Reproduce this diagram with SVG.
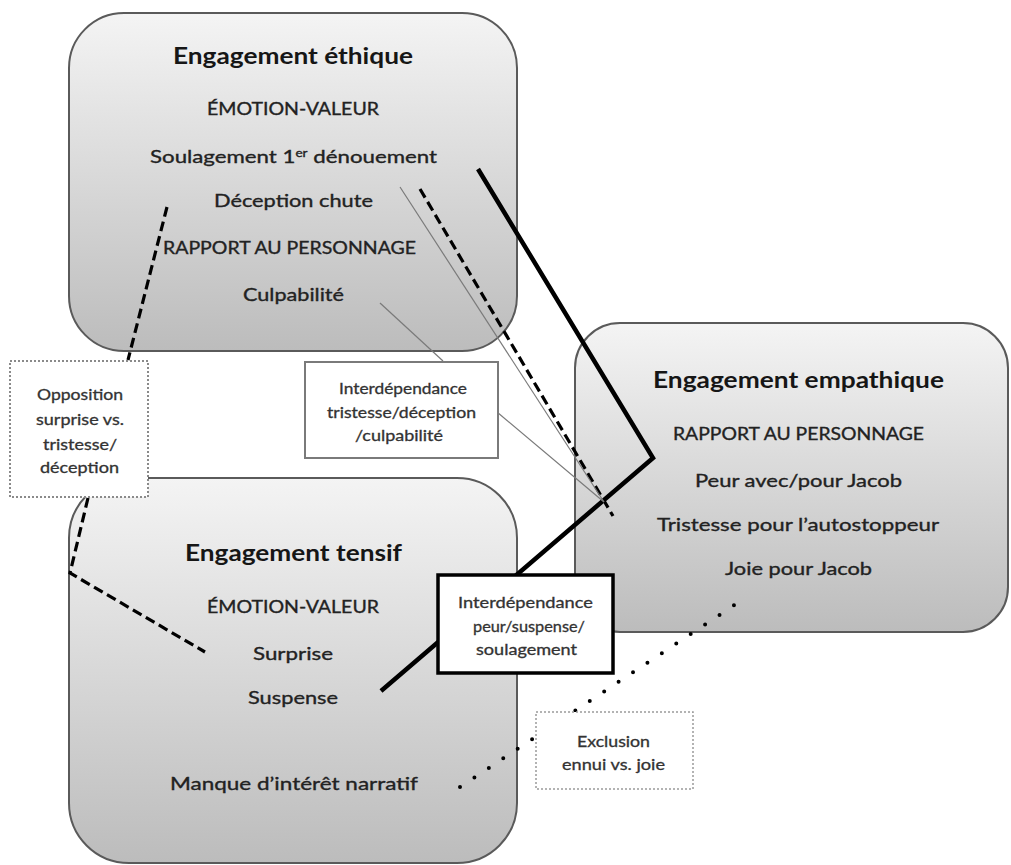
<svg xmlns="http://www.w3.org/2000/svg" width="1011" height="865" viewBox="0 0 1011 865">
<defs>
<linearGradient id="g" x1="0" y1="0" x2="0" y2="1">
<stop offset="0" stop-color="#f4f4f4"/>
<stop offset="1" stop-color="#bcbcbc"/>
</linearGradient>
</defs>
<style>
.box{fill:url(#g);stroke:#5a5a5a;stroke-width:2}
.t{font-family:Lato,"Liberation Sans",sans-serif;text-anchor:middle}
.title{font-size:22px;font-weight:bold;fill:#161616}
.body{font-size:18px;fill:#222;stroke:#222;stroke-width:0.35}
.lab{font-size:15px;fill:#333;stroke:#333;stroke-width:0.3}
.thick{fill:none;stroke:#000;stroke-width:4.5;stroke-linejoin:miter}
.dash{fill:none;stroke:#000;stroke-width:3.2;stroke-dasharray:10 5}
.thin{fill:none;stroke:#7a7a7a;stroke-width:1.2}
.dot{fill:none;stroke:#000;stroke-width:4;stroke-linecap:round;stroke-dasharray:0 17.3}
</style>
<rect width="1011" height="865" fill="#fff"/>
<g id="ethique">
<rect class="box" x="69" y="13" width="448" height="338" rx="55"/>
<text class="t title" x="293" y="64" textLength="240" lengthAdjust="spacingAndGlyphs">Engagement éthique</text>
<text class="t body" x="293" y="115" textLength="172" lengthAdjust="spacingAndGlyphs">ÉMOTION-VALEUR</text>
<text class="t body" x="293.5" y="163" textLength="287" lengthAdjust="spacingAndGlyphs">Soulagement 1<tspan font-size="11" baseline-shift="super">er</tspan> dénouement</text>
<text class="t body" x="293.5" y="207" textLength="159" lengthAdjust="spacingAndGlyphs">Déception chute</text>
<text class="t body" x="289.5" y="254" textLength="253" lengthAdjust="spacingAndGlyphs">RAPPORT AU PERSONNAGE</text>
<text class="t body" x="293.5" y="301" textLength="101" lengthAdjust="spacingAndGlyphs">Culpabilité</text>
</g>
<g id="empathique">
<rect class="box" x="575" y="323" width="433" height="309" rx="45"/>
<text class="t title" x="798.5" y="388" textLength="291" lengthAdjust="spacingAndGlyphs">Engagement empathique</text>
<text class="t body" x="798.5" y="440" textLength="251" lengthAdjust="spacingAndGlyphs">RAPPORT AU PERSONNAGE</text>
<text class="t body" x="798.5" y="487" textLength="207" lengthAdjust="spacingAndGlyphs">Peur avec/pour Jacob</text>
<text class="t body" x="798" y="531" textLength="282" lengthAdjust="spacingAndGlyphs">Tristesse pour l’autostoppeur</text>
<text class="t body" x="798.5" y="575" textLength="147" lengthAdjust="spacingAndGlyphs">Joie pour Jacob</text>
</g>
<g id="tensif">
<rect class="box" x="69" y="478" width="448" height="385" rx="60"/>
<text class="t title" x="293.5" y="561" textLength="217" lengthAdjust="spacingAndGlyphs">Engagement tensif</text>
<text class="t body" x="293" y="613" textLength="172" lengthAdjust="spacingAndGlyphs">ÉMOTION-VALEUR</text>
<text class="t body" x="293" y="660" textLength="80" lengthAdjust="spacingAndGlyphs">Surprise</text>
<text class="t body" x="293" y="704" textLength="90" lengthAdjust="spacingAndGlyphs">Suspense</text>
<text class="t body" x="294" y="790" textLength="248" lengthAdjust="spacingAndGlyphs">Manque d’intérêt narratif</text>
</g>
<g id="connectors">
<polyline class="thick" points="478,169 653,458 381,691"/>
<line class="dash" x1="420" y1="189" x2="613" y2="516"/>
<line class="thin" x1="400" y1="187" x2="604" y2="502"/>
<line class="thin" x1="380" y1="303" x2="443" y2="361"/>
<line class="thin" x1="497" y1="412" x2="604" y2="502"/>
<line class="dash" x1="167" y1="207" x2="128" y2="360"/>
<polyline class="dash" points="88,498 70,573 205,652"/>
<line class="dot" x1="460" y1="787" x2="748" y2="596"/>
</g>
<g id="opposition">
<rect x="10" y="361" width="138" height="136" fill="#fff" stroke="#8a8a8a" stroke-width="2" stroke-dasharray="2 2"/>
<text class="t lab" x="80" y="400" textLength="86" lengthAdjust="spacingAndGlyphs">Opposition</text>
<text class="t lab" x="80" y="425" textLength="88" lengthAdjust="spacingAndGlyphs">surprise vs.</text>
<text class="t lab" x="80" y="450" textLength="74" lengthAdjust="spacingAndGlyphs">tristesse/</text>
<text class="t lab" x="79.5" y="473" textLength="79" lengthAdjust="spacingAndGlyphs">déception</text>
</g>
<g id="interdep-tristesse">
<rect x="305" y="362" width="193" height="96" fill="#fff" stroke="#7a7a7a" stroke-width="2"/>
<text class="t lab" x="403" y="394" textLength="128" lengthAdjust="spacingAndGlyphs">Interdépendance</text>
<text class="t lab" x="401.5" y="418" textLength="149" lengthAdjust="spacingAndGlyphs">tristesse/déception</text>
<text class="t lab" x="399" y="441" textLength="88" lengthAdjust="spacingAndGlyphs">/culpabilité</text>
</g>
<g id="interdep-peur">
<rect x="438" y="575" width="175" height="98" fill="#fff" stroke="#000" stroke-width="3.5"/>
<text class="t lab" x="525.5" y="608" textLength="135" lengthAdjust="spacingAndGlyphs">Interdépendance</text>
<text class="t lab" x="529" y="632" textLength="112" lengthAdjust="spacingAndGlyphs">peur/suspense/</text>
<text class="t lab" x="526.5" y="655" textLength="101" lengthAdjust="spacingAndGlyphs">soulagement</text>
</g>
<g id="exclusion">
<rect x="536" y="712" width="157" height="77" fill="#fff" stroke="#9a9a9a" stroke-width="1.5" stroke-dasharray="2 2"/>
<text class="t lab" x="613.5" y="747" textLength="73" lengthAdjust="spacingAndGlyphs">Exclusion</text>
<text class="t lab" x="613.5" y="770" textLength="103" lengthAdjust="spacingAndGlyphs">ennui vs. joie</text>
</g>
</svg>
